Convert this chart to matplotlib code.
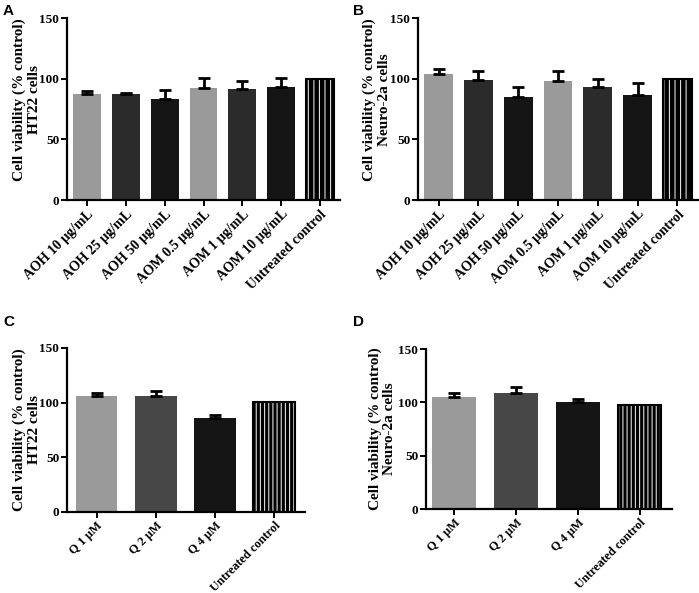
import numpy as np
import matplotlib
matplotlib.use("Agg")
import matplotlib.pyplot as plt

plt.rcParams["font.family"] = ["Liberation Serif", "DejaVu Serif"]
plt.rcParams["font.weight"] = "bold"
plt.rcParams["hatch.linewidth"] = 0.8

# panels A and B: extracts
ext_labels = ["AOH 10 μg/mL", "AOH 25 μg/mL", "AOH 50 μg/mL", "AOM 0.5 μg/mL",
              "AOM 1 μg/mL", "AOM 10 μg/mL", "Untreated control"]
ht22_ext = [87.2, 87.5, 83.4, 91.9, 91.4, 92.8, 100.0]
ht22_ext_err = [2.8, 0.9, 7.1, 8.3, 6.3, 7.4, 0.0]
n2a_ext = [104.0, 99.0, 85.0, 98.3, 93.3, 86.2, 100.0]
n2a_ext_err = [4.2, 7.5, 7.8, 8.2, 6.7, 10.4, 0.0]

# panels C and D: quercetin
q_labels = ["Q 1 μM", "Q 2 μM", "Q 4 μM", "Untreated control"]
ht22_q = [106.2, 106.2, 85.8, 100.4]
ht22_q_err = [3.0, 4.2, 2.7, 0.0]
n2a_q = [105.3, 108.4, 100.0, 97.5]
n2a_q_err = [3.7, 5.6, 3.4, 0.0]

ext_colors = ["#9a9a9a", "#2b2b2b", "#151515", "#9a9a9a", "#2b2b2b", "#151515", "black"]
q_colors = ["#9a9a9a", "#474747", "#151515", "black"]

W, H = 699, 593
fig = plt.figure(figsize=(W / 100, H / 100), dpi=100)


def px_axes(left, top, right, bottom):
    return fig.add_axes([left / W, 1 - bottom / H, (right - left) / W, (bottom - top) / H])


def draw_panel(ax, labels, vals, errs, colors, cell, width, xlim, hatch, lab_x, lab_y, xfs):
    x = np.arange(len(vals))
    for i in range(len(vals)):
        if labels[i] == "Untreated control":
            ax.bar(x[i], vals[i], width, color="black", edgecolor="#dddddd",
                   hatch=hatch, linewidth=0, zorder=2)
            ax.bar(x[i], vals[i], width, fill=False, edgecolor="black",
                   linewidth=1.5, zorder=2)
        else:
            ax.bar(x[i], vals[i], width, color=colors[i], linewidth=0, zorder=2)
    # error bars only for treated groups, upper side only
    idx = [i for i in range(len(vals)) if errs[i] > 0]
    ax.errorbar(x[idx], np.array(vals)[idx], yerr=[np.zeros(len(idx)), np.array(errs)[idx]],
                fmt="none", ecolor="black", elinewidth=2, capsize=4.5, capthick=2, zorder=3)
    ax.set_ylim(0, 150)
    ax.set_xlim(*xlim)
    ax.set_yticks([0, 50, 100, 150])
    ax.set_xticks(x)
    ax.set_xticklabels(labels, rotation=45, ha="right", rotation_mode="anchor",
                       fontsize=xfs, fontweight="bold")
    for t in ax.get_yticklabels():
        t.set_fontsize(9.5)
        t.set_fontweight("bold")
    ax.set_ylabel("Cell viability (% control)\n" + cell, fontsize=11,
                  fontweight="bold", linespacing=1.15)
    bb = ax.get_position()
    ax.yaxis.set_label_coords((lab_x / W - bb.x0) / bb.width, lab_y)
    for s in ["top", "right"]:
        ax.spines[s].set_visible(False)
    for s in ["left", "bottom"]:
        ax.spines[s].set_linewidth(1.6)
    ax.tick_params(width=1.4, length=4, pad=1.5)


axA = px_axes(67, 18, 340, 200)
draw_panel(axA, ext_labels, ht22_ext, ht22_ext_err, ext_colors, "HT22 cells", 0.72,
           (-0.52, 6.52), "|||", 41, 0.55, 10)
axB = px_axes(418, 18, 698, 200)
draw_panel(axB, ext_labels, n2a_ext, n2a_ext_err, ext_colors, "Neuro-2a cells", 0.72,
           (-0.52, 6.52), "|||", 391, 0.55, 10)
axC = px_axes(67, 348, 305, 512)
draw_panel(axC, q_labels, ht22_q, ht22_q_err, q_colors, "HT22 cells", 0.7,
           (-0.5, 3.52), "||||", 41, 0.5, 8.8)
axD = px_axes(426, 349, 672, 509)
draw_panel(axD, q_labels, n2a_q, n2a_q_err, q_colors, "Neuro-2a cells", 0.7,
           (-0.45, 3.52), "||||", 396, 0.5, 8.8)

for lab, (px, py) in zip("ABCD", [(3, 4), (353, 4), (3, 315), (353, 315)]):
    fig.text(px / W, 1 - py / H, lab, fontsize=11, fontweight="bold",
             family="Liberation Sans", va="top", ha="left")

fig.savefig("out.png", dpi=100)
